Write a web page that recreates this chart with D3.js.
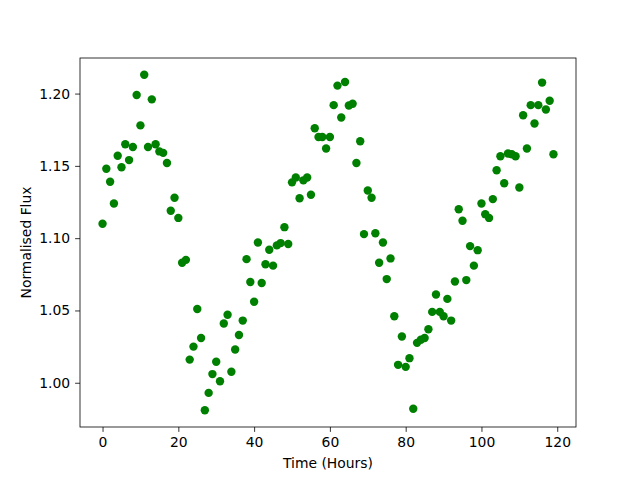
<!DOCTYPE html>
<html>
<head>
<meta charset="utf-8">
<script src="https://cdn.jsdelivr.net/npm/d3@7"></script>
<style>
  body { margin: 0; background: #fff; }
  .axis text { font-family: "DejaVu Sans", sans-serif; font-size: 13.9px; fill: #000; }
  .axis path, .axis line { stroke: #000; stroke-width: 0.8px; }
</style>
</head>
<body>
<div id="chart"></div>
<script>
var width = 640, height = 480;
var margin = {left: 80, top: 58, right: 64, bottom: 53};

// hours of observation
var hours = d3.range(0, 120);
// normalised flux per hour
var flux = [
  1.110, 1.148, 1.139, 1.124, 1.157, 1.149, 1.165, 1.154, 1.163, 1.199,
  1.178, 1.213, 1.163, 1.196, 1.165, 1.160, 1.159, 1.152, 1.119, 1.128,
  1.114, 1.083, 1.085, 1.016, 1.025, 1.051, 1.031, 0.981, 0.993, 1.006,
  1.0145, 1.001, 1.041, 1.047, 1.0076, 1.023, 1.033, 1.043, 1.0855, 1.0697,
  1.056, 1.097, 1.069, 1.082, 1.092, 1.081, 1.095, 1.0966, 1.1076, 1.096,
  1.1386, 1.142, 1.1276, 1.140, 1.142, 1.130, 1.176, 1.170, 1.170, 1.162,
  1.170, 1.192, 1.2055, 1.1834, 1.208, 1.1917, 1.193, 1.152, 1.167, 1.1028,
  1.133, 1.128, 1.1034, 1.083, 1.097, 1.0717, 1.086, 1.046, 1.0124, 1.032,
  1.011, 1.017, 0.982, 1.0276, 1.0297, 1.031, 1.037, 1.049, 1.061, 1.049,
  1.046, 1.058, 1.043, 1.070, 1.120, 1.112, 1.071, 1.0945, 1.081, 1.0917,
  1.124, 1.1166, 1.114, 1.127, 1.147, 1.1566, 1.138, 1.1586, 1.158, 1.1566,
  1.135, 1.185, 1.162, 1.192, 1.1793, 1.192, 1.2076, 1.189, 1.195, 1.158
];
var xTicks = [0, 20, 40, 60, 80, 100, 120];
var yTicks = [1.00, 1.05, 1.10, 1.15, 1.20];

var svg = d3.select("#chart").append("svg")
  .attr("width", width).attr("height", height);

var x = d3.scaleLinear()
  .domain([-5.95, 124.95])
  .range([margin.left, width - margin.right]);

var yMin = d3.min(flux), yMax = d3.max(flux), pad = (yMax - yMin) * 0.05;
var y = d3.scaleLinear()
  .domain([yMin - pad, yMax + pad])
  .range([height - margin.bottom, margin.top]);

// points
svg.append("g").selectAll("circle")
  .data(hours)
  .enter().append("circle")
  .attr("cx", function (d) { return x(d); })
  .attr("cy", function (d, i) { return y(flux[i]); })
  .attr("r", 4.2)
  .attr("fill", "#008000");

// frame
svg.append("rect")
  .attr("x", margin.left).attr("y", margin.top)
  .attr("width", width - margin.left - margin.right)
  .attr("height", height - margin.top - margin.bottom)
  .attr("fill", "none").attr("stroke", "#000").attr("stroke-width", 0.8);

var xAxis = d3.axisBottom(x).tickValues(xTicks).tickFormat(d3.format("d"))
  .tickSizeInner(4.9).tickSizeOuter(0).tickPadding(4.9);
var yAxis = d3.axisLeft(y).tickValues(yTicks).tickFormat(d3.format(".2f"))
  .tickSizeInner(4.9).tickSizeOuter(0).tickPadding(4.9);

svg.append("g").attr("class", "axis")
  .attr("transform", "translate(0," + (height - margin.bottom) + ")")
  .call(xAxis)
  .select(".domain").remove();

svg.append("g").attr("class", "axis")
  .attr("transform", "translate(" + margin.left + ",0)")
  .call(yAxis)
  .select(".domain").remove();

svg.append("text")
  .attr("x", (margin.left + width - margin.right) / 2)
  .attr("y", 468)
  .attr("text-anchor", "middle")
  .attr("font-family", "DejaVu Sans, sans-serif")
  .attr("font-size", 13.9)
  .text("Time (Hours)");

svg.append("text")
  .attr("transform", "translate(31," + ((margin.top + height - margin.bottom) / 2) + ") rotate(-90)")
  .attr("text-anchor", "middle")
  .attr("font-family", "DejaVu Sans, sans-serif")
  .attr("font-size", 13.9)
  .text("Normalised Flux");
</script>
</body>
</html>
